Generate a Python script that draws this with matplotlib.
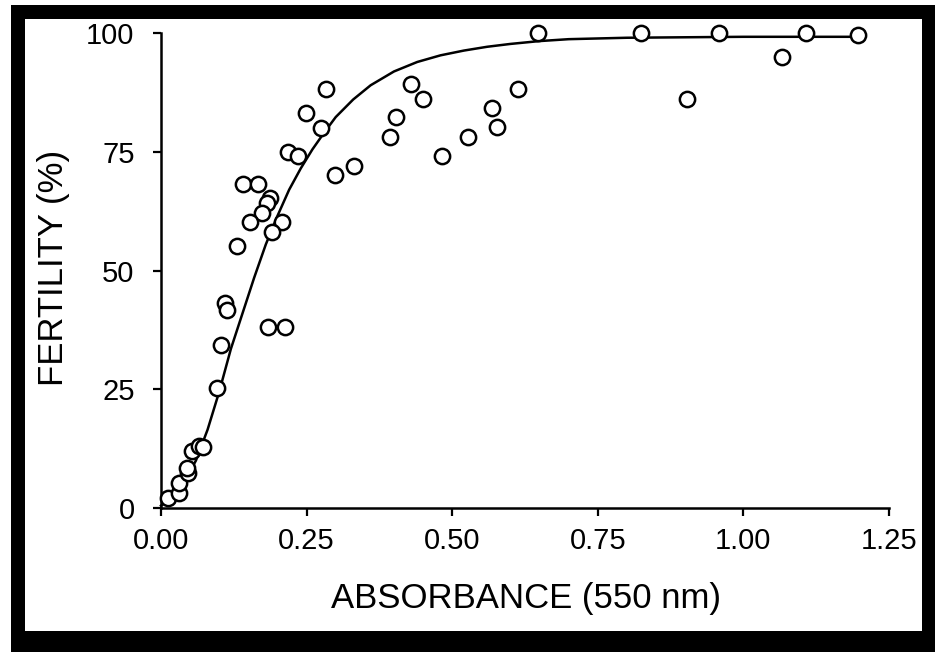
import numpy as np
import matplotlib
matplotlib.use("Agg")
import matplotlib.pyplot as plt
from matplotlib.patches import Rectangle

plt.rcParams['font.family'] = ['Liberation Sans', 'DejaVu Sans']

# measured points (absorbance at 550 nm, fertility %)
absorbance = [0.012, 0.031, 0.031, 0.046, 0.045, 0.053, 0.065, 0.072, 0.096, 0.103,
              0.110, 0.113, 0.184, 0.213, 0.218, 0.235, 0.141, 0.167, 0.187, 0.182,
              0.173, 0.153, 0.208, 0.191, 0.130, 0.299, 0.647, 0.283, 0.249, 0.275,
              0.429, 0.450, 0.404, 0.393, 0.331, 0.482, 0.527, 0.568, 0.577, 0.613,
              0.824, 0.958, 1.107, 1.197, 1.066, 0.903]
fertility = [2.1, 3.2, 5.3, 7.4, 8.4, 12.0, 13.0, 12.8, 25.3, 34.3,
             43.2, 41.7, 38.1, 38.1, 74.9, 74.1, 68.2, 68.2, 65.3, 64.2,
             62.1, 60.2, 60.2, 58.1, 55.2, 70.1, 100.0, 88.2, 83.2, 80.0,
             89.3, 86.1, 82.3, 78.1, 72.0, 74.1, 78.1, 84.2, 80.2, 88.2,
             100.0, 100.0, 100.0, 99.6, 95.0, 86.1]

# fitted curve
curve_x = [0.0, 0.02, 0.04, 0.06, 0.08, 0.10, 0.12, 0.14, 0.16, 0.18, 0.20, 0.22,
           0.24, 0.26, 0.28, 0.30, 0.33, 0.36, 0.40, 0.44, 0.48, 0.52, 0.56, 0.60,
           0.65, 0.70, 0.80, 0.90, 1.00, 1.10, 1.20]
curve_y = [0.5, 2.5, 5.5, 10.0, 16.5, 24.5, 33.5, 41.0, 48.5, 55.5, 61.5, 67.0,
           71.5, 75.5, 79.0, 82.3, 86.0, 89.0, 91.9, 93.9, 95.3, 96.3, 97.1, 97.7,
           98.3, 98.7, 99.0, 99.1, 99.2, 99.2, 99.2]

xticks = [0.0, 0.25, 0.5, 0.75, 1.0, 1.25]
yticks = [0, 25, 50, 75, 100]

W, H = 935, 652
fig = plt.figure(figsize=(W / 100, H / 100), dpi=100)
fig.patch.set_facecolor('white')

# black frame around the picture
fig.patches.append(Rectangle((11 / W, 0), (W - 11) / W, (H - 5) / H,
                             transform=fig.transFigure, facecolor='black',
                             edgecolor='none', zorder=-10))
fig.patches.append(Rectangle((25 / W, 21 / H), 897 / W, 612 / H,
                             transform=fig.transFigure, facecolor='white',
                             edgecolor='none', zorder=-9))

ax = fig.add_axes([161 / W, 144 / H, 728 / W, 475 / H])
ax.patch.set_alpha(0)

ax.plot(curve_x, curve_y, color='black', lw=1.8, clip_on=False, zorder=2)
ax.plot(absorbance, fertility, linestyle='none', marker='o', markersize=11,
        markerfacecolor='white', markeredgecolor='black', markeredgewidth=1.8,
        clip_on=False, zorder=3)

ax.set_xlim(0, 1.25)
ax.set_ylim(0, 100)
ax.set_xticks(xticks)
ax.set_xticklabels(['%.2f' % v for v in xticks])
ax.set_yticks(yticks)

for side in ['top', 'right']:
    ax.spines[side].set_visible(False)
for side in ['left', 'bottom']:
    ax.spines[side].set_linewidth(1.8)

ax.tick_params(axis='both', direction='out', length=6, width=1.6,
               labelsize=21, colors='black')
ax.tick_params(axis='y', pad=13)
ax.tick_params(axis='x', pad=8)

ax.set_xlabel('ABSORBANCE (550 nm)', fontsize=25)
ax.set_ylabel('FERTILITY (%)', fontsize=25)
ax.xaxis.set_label_coords(0.501, -0.155)
ax.yaxis.set_label_coords(-0.125, 0.505)

fig.savefig('out.png', dpi=100)
